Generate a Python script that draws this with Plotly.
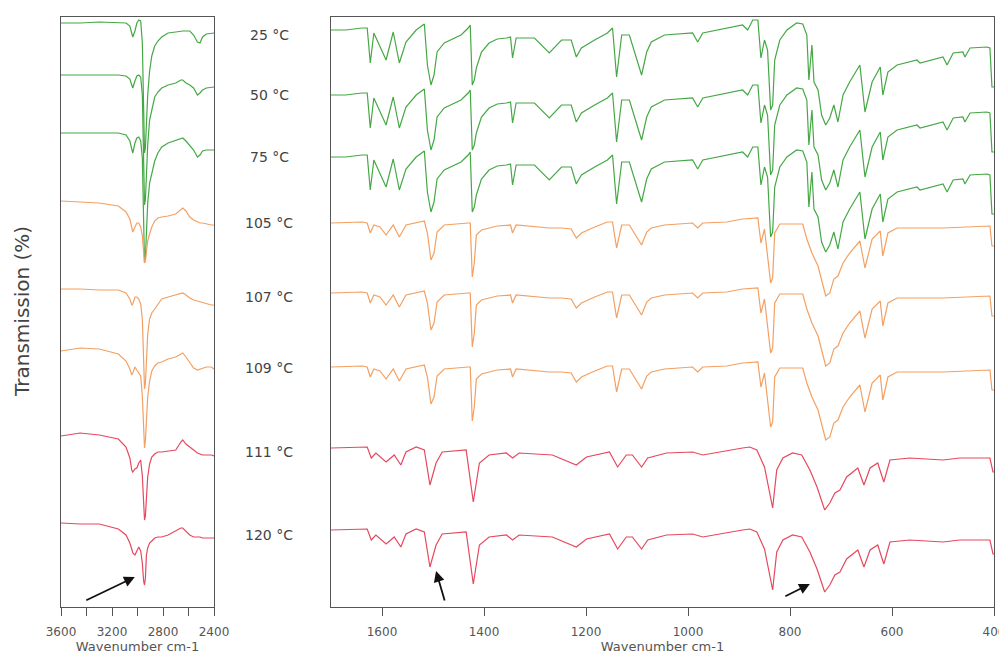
import plotly.graph_objects as go

# ---------------- data ----------------
temps = ["25 °C", "50 °C", "75 °C", "105 °C", "107 °C", "109 °C", "111 °C", "120 °C"]
phase = ["green", "green", "green", "orange", "orange", "orange", "red", "red"]

# vertical stacking offsets (arbitrary transmission units)
offset_left = [584, 532, 474, 406, 318, 256, 171, 84]
offset_right = [577, 512, 450, 384, 314, 240, 159, 77]

# left panel (C-H stretching region)
wn_left = [3600, 3450, 3300, 3150, 3090, 3060, 3045, 3037, 3020, 3005, 2990, 2975, 2962, 2952,
           2945, 2938, 2930, 2920, 2905, 2888, 2865, 2840, 2810, 2760, 2700, 2660, 2645, 2620,
           2590, 2560, 2530, 2510, 2490, 2460, 2420, 2400]
t25_left = [0, 0, 1, 0, 0, -3, -10, -14, -8, 0, 3, 2, -20, -90, -130, -125, -100, -72, -48, -33,
            -23, -18, -14, -10, -9, -8, -8, -8, -8, -12, -19, -20, -14, -11, -10, -10]
t50_left = [0, 0, 0, 0, -1, -4, -10, -13, -6, -1, 0, -2, -20, -90, -130, -125, -100, -70, -45, -35,
            -22, -17, -13, -10, -8, -5, -5, -8, -10, -13, -20, -18, -15, -13, -12, -12]
t75_left = [0, 0, 0, 0, -2, -8, -16, -20, -10, -5, -4, -8, -25, -90, -130, -125, -100, -70, -50, -40,
            -28, -20, -14, -10, -7, -5, -5, -8, -12, -17, -24, -22, -18, -17, -17, -17]
t105_left = [0, -1, -2, -5, -11, -18, -27, -31, -26, -22, -22, -26, -35, -55, -62, -60, -50, -40, -33,
             -26, -20, -17, -16, -15, -13, -8, -7, -10, -16, -19, -21, -22, -22, -23, -24, -24]
t107_left = [0, 0, -1, -1, -4, -10, -16, -15, -8, -8, -10, -15, -30, -80, -100, -95, -70, -45, -30,
             -24, -20, -15, -10, -8, -6, -4, -4, -6, -9, -11, -12, -13, -14, -15, -16, -16]
t109_left = [0, 3, 2, -3, -10, -18, -24, -22, -16, -19, -21, -25, -45, -90, -97, -90, -65, -46, -30,
             -20, -15, -12, -11, -8, -6, -3, -2, -6, -12, -17, -19, -18, -17, -16, -16, -18]
t111_left = [0, 3, 1, -3, -11, -22, -34, -36, -33, -32, -27, -24, -40, -75, -84, -80, -55, -41, -28,
             -21, -18, -16, -16, -15, -14, -6, -4, -8, -11, -14, -17, -18, -19, -19, -19, -20]
t120_left = [0, -1, -1, -6, -12, -20, -26, -30, -32, -27, -24, -28, -40, -58, -62, -55, -32, -25, -20,
             -18, -15, -14, -14, -12, -8, -5, -5, -8, -12, -14, -14, -14, -15, -15, -15, -15]
left_values = [t25_left, t50_left, t75_left, t105_left, t107_left, t109_left, t111_left, t120_left]

# right panel (fingerprint region), one spectrum shape per phase
wn_green = [1700, 1671, 1639, 1629, 1623, 1616, 1592, 1578, 1566, 1553, 1533, 1517, 1511, 1504, 1498,
            1492, 1478, 1454, 1445, 1431, 1427, 1423, 1419, 1415, 1405, 1390, 1374, 1356, 1348, 1344,
            1337, 1301, 1272, 1248, 1229, 1219, 1209, 1183, 1158, 1148, 1140, 1130, 1115, 1091, 1081,
            1072, 1046, 991, 981, 971, 924, 893, 883, 873, 863, 857, 850, 844, 838, 834, 830, 820, 806,
            787, 775, 767, 763, 757, 753, 745, 738, 730, 722, 714, 706, 696, 683, 663, 653, 639, 623,
            618, 608, 590, 551, 545, 500, 492, 480, 461, 457, 447, 414, 408, 404, 400]
t_green = [0, 0, 2, 2, -33, -3, -30, -2, -33, -12, 0, 6, -35, -55, -45,
           -22, -13, -7, -5, 2, 5, -55, -50, -38, -22, -13, -9, -8, -7, -28,
           -8, -8, -23, -10, -10, -27, -18, -10, -3, 2, -47, -5, -5, -45, -22,
           -12, -5, -3, -12, -3, 2, 5, 0, 10, 10, -28, -10, -20, -80, -75, -30, -10, 0,
           7, 6, -5, -50, -15, -52, -60, -85, -95, -88, -75, -92, -65, -52, -35, -82, -52, -37,
           -65, -42, -35, -30, -33, -27, -35, -23, -22, -27, -18, -17, -18, -57, -57]

wn_orange = [1700, 1639, 1629, 1623, 1616, 1604, 1592, 1578, 1566, 1553, 1517, 1511, 1504, 1498, 1492,
             1478, 1431, 1427, 1423, 1419, 1415, 1405, 1390, 1374, 1348, 1344, 1337, 1301, 1272, 1248,
             1229, 1219, 1209, 1183, 1158, 1148, 1140, 1130, 1115, 1091, 1081, 1072, 1046, 991, 981,
             971, 924, 893, 873, 863, 857, 850, 838, 834, 830, 820, 787, 775, 767, 757, 745, 730, 722,
             714, 706, 696, 683, 663, 653, 639, 623, 618, 608, 590, 500, 414, 408, 404, 400]
t_orange = [0, 1, 0, -10, -2, -4, -12, -2, -14, -2, 2, -10, -37, -30, -9,
            -2, 0, 0, -54, -40, -12, -7, -5, -3, -2, -10, -2, -4, -5, -5,
            -6, -15, -10, -4, 1, 1, -25, -2, -2, -22, -9, -5, -2, 0, -5,
            0, 1, 4, 5, 5, -20, -6, -60, -55, -10, -1, -1, -1, -16, -30, -43, -73, -70,
            -56, -53, -40, -30, -18, -45, -16, -8, -33, -10, -5, -5, -3, -3, -23, -23]

wn_red = [1700, 1639, 1629, 1621, 1612, 1592, 1576, 1563, 1553, 1533, 1517, 1506, 1494, 1482, 1435,
          1421, 1409, 1390, 1356, 1344, 1331, 1266, 1219, 1199, 1154, 1138, 1121, 1109, 1091, 1079,
          1042, 991, 971, 893, 879, 865, 855, 850, 834, 826, 814, 795, 777, 761, 747, 732, 722, 712,
          702, 689, 667, 655, 643, 628, 616, 604, 565, 500, 467, 408, 402, 400]
t_red = [0, 1, 1, -10, -5, -14, -7, -17, -4, 1, -2, -37, -15, -4, -2,
         -54, -15, -7, -5, -10, -5, -7, -17, -9, -4, -19, -7, -7, -19, -10,
         -5, -4, -7, 0, 1, -2, -14, -19, -60, -22, -10, -5, -7, -22, -39, -62, -55, -45,
         -42, -29, -20, -37, -20, -15, -34, -12, -10, -12, -10, -10, -24, -24]

right_shapes = {"green": (wn_green, t_green), "orange": (wn_orange, t_orange), "red": (wn_red, t_red)}
colors = {"green": "#45a845", "orange": "#f3a062", "red": "#e6485e"}

left_ticks = [3600, 3400, 3200, 3000, 2800, 2600, 2400]
left_ticktext = ["3600", "", "3200", "", "2800", "", "2400"]
right_ticks = [1600, 1400, 1200, 1000, 800, 600, 400]

# ---------------- figure ----------------
fig = go.Figure()
for i, t in enumerate(temps):
    c = colors[phase[i]]
    fig.add_trace(go.Scatter(x=wn_left, y=[offset_left[i] + v for v in left_values[i]],
                             mode="lines", line=dict(color=c, width=1.2),
                             xaxis="x", yaxis="y", showlegend=False, name=t))
    wx, wy = right_shapes[phase[i]]
    fig.add_trace(go.Scatter(x=wx, y=[offset_right[i] + v for v in wy],
                             mode="lines", line=dict(color=c, width=1.2),
                             xaxis="x2", yaxis="y2", showlegend=False, name=t))

# page has an 8px body margin: figure is placed at (8, 8)
W, H = 999, 646
TOP, PH = 9, 590          # plot area top margin and height
FONT = "DejaVu Sans, Verdana, sans-serif"


def paper_y(page_y):
    return (TOP + PH - (page_y - 8)) / PH


axis_common = dict(showline=True, linecolor="#555555", linewidth=1, mirror=True,
                   showgrid=False, zeroline=False, automargin=False)
xtick = dict(ticks="outside", ticklen=8, tickcolor="#555555", tickwidth=1,
             ticklabelstandoff=6, tickfont=dict(size=12, color="#555555"))
fig.update_layout(
    width=W, height=H,
    margin=dict(l=0, r=0, t=TOP, b=H - TOP - PH),
    paper_bgcolor="white", plot_bgcolor="white",
    font=dict(family=FONT, color="#444444", size=12),
    xaxis=dict(domain=[53 / W, 206 / W], range=[3600, 2400], tickvals=left_ticks,
               ticktext=left_ticktext,
               title=dict(text="Wavenumber cm-1", font=dict(size=13, color="#555555"), standoff=7),
               **xtick, **axis_common),
    xaxis2=dict(domain=[323 / W, 986 / W], range=[1700, 400], tickvals=right_ticks,
                title=dict(text="Wavenumber cm-1", font=dict(size=13, color="#555555"), standoff=5),
                **xtick, **axis_common),
    yaxis=dict(range=[0, 590], showticklabels=False, ticks="", anchor="x", **axis_common),
    yaxis2=dict(range=[0, 590], showticklabels=False, ticks="", anchor="x2", **axis_common),
)

label_y = [35, 95, 157, 223, 297, 368, 452, 535]
for t, ly in zip(temps, label_y):
    fig.add_annotation(text=t, x=261 / W, y=paper_y(ly), xref="paper", yref="paper",
                       yanchor="middle", xanchor="center", showarrow=False,
                       font=dict(size=14, color="#444444"))

fig.add_annotation(text="Transmission (%)", x=14 / W, y=paper_y(312), xref="paper", yref="paper",
                   textangle=-90, showarrow=False, xanchor="center", yanchor="middle",
                   font=dict(size=20, color="#444444"))

arrow_style = dict(showarrow=True, arrowhead=2, arrowsize=1.2, arrowwidth=1.8,
                   arrowcolor="#111111", text="", axref="pixel", ayref="pixel")
fig.add_annotation(x=3021, y=30, xref="x", yref="y", ax=-50, ay=24, **arrow_style)
fig.add_annotation(x=1494, y=36, xref="x2", yref="y2", ax=9, ay=31, **arrow_style)
fig.add_annotation(x=761, y=23, xref="x2", yref="y2", ax=-26, ay=13, **arrow_style)

fig.write_html("out.html")
